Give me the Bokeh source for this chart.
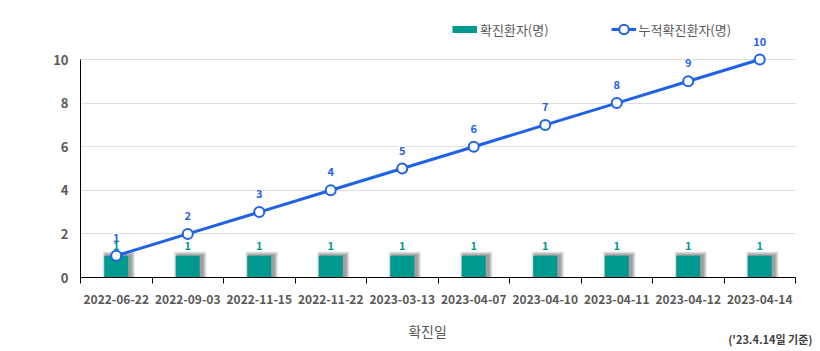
from bokeh.plotting import figure
from bokeh.models import (ColumnDataSource, FixedTicker, Range1d, Legend, LegendItem,
                          LabelSet, Label)
from bokeh.core.properties import value
from bokeh.embed import file_html
from bokeh.resources import INLINE

dates = ["2022-06-22", "2022-09-03", "2022-11-15", "2022-11-22", "2023-03-13",
         "2023-04-07", "2023-04-10", "2023-04-11", "2023-04-12", "2023-04-14"]
daily = [1, 1, 1, 1, 1, 1, 1, 1, 1, 1]
cumulative = [1, 2, 3, 4, 5, 6, 7, 8, 9, 10]
y_ticks = [0, 2, 4, 6, 8, 10]

TEAL = "#009990"
BLUE = "#1F62E8"
GRAY = "#595959"
FONT = "Noto Sans CJK KR"

W, H = 820, 351
FL, FR, FT, FB = 80, 795, 59, 277  # plot area in pixels
n = len(dates)
ymax = max(y_ticks)
sx = (FR - FL) / n
sy = (FB - FT) / ymax
BAR_PX = 24

xs = [i + 0.5 for i in range(n)]
src = ColumnDataSource(dict(x=xs, daily=daily, cum=cumulative,
                            dl=[str(v) for v in daily], cl=[str(v) for v in cumulative]))

p = figure(width=W, height=H, output_backend="svg", toolbar_location=None,
           x_range=Range1d(-FL / sx, (W - FL) / sx),
           y_range=Range1d(-(H - FB) / sy, FB / sy),
           min_border=0)
p.outline_line_color = None
p.background_fill_color = "white"

# soft drop shadow behind bars
for k in range(1, 5):
    sh = ColumnDataSource(dict(x=[x + 2.5 / sx for x in xs], top=[v + k * 1.0 / sy for v in daily]))
    p.vbar(x="x", top="top", width=(BAR_PX + 2 * k) / sx, source=sh,
           fill_color="#000000", fill_alpha=0.11, line_color=None)
bars = p.vbar(x="x", top="daily", width=BAR_PX / sx, source=src, fill_color=TEAL, line_color=None)

# bar value labels beneath the line layer
p.add_layout(LabelSet(x="x", y="daily", text="dl", source=src, y_offset=6, text_align="center",
                      text_color=TEAL, text_font=value(FONT), text_font_size="11px",
                      text_font_style="bold", level="underlay"))

line = p.line(x="x", y="cum", source=src, line_color=BLUE, line_width=3)
pts = p.scatter(x="x", y="cum", source=src, size=10, fill_color="white", line_color=BLUE, line_width=2)

p.add_layout(LabelSet(x="x", y="cum", text="cl", source=src, y_offset=14, text_align="center",
                      text_color=BLUE, text_font=value(FONT), text_font_size="11px", text_font_style="bold",
                      background_fill_color="white"))

# legend proxy for the bar series (thick teal stroke)
bar_key = p.line(x="x", y="daily", source=src, line_color=TEAL, line_width=7, visible=False)

# axes
p.xaxis.fixed_location = 0
p.xaxis.bounds = (0, n)
p.xaxis.ticker = FixedTicker(ticks=xs, minor_ticks=list(range(n + 1)))
p.xaxis.major_label_overrides = {x: d for x, d in zip(xs, dates)}
p.xaxis.major_tick_line_color = None
p.xaxis.major_tick_out = 0
p.xaxis.major_tick_in = 0
p.xaxis.minor_tick_out = 6
p.xaxis.minor_tick_in = 0
p.xaxis.minor_tick_line_color = "black"
p.xaxis.axis_line_color = "black"
p.xaxis.major_label_standoff = 11
p.xaxis.major_label_text_font = FONT
p.xaxis.major_label_text_font_size = "12px"
p.xaxis.major_label_text_font_style = "bold"
p.xaxis.major_label_text_color = GRAY

p.yaxis.fixed_location = 0
p.yaxis.ticker = FixedTicker(ticks=y_ticks)
p.yaxis.bounds = (0, ymax)
p.yaxis.major_tick_line_color = None
p.yaxis.minor_tick_line_color = None
p.yaxis.major_tick_out = 0
p.yaxis.axis_line_color = "black"
p.yaxis.major_label_standoff = 12
p.yaxis.major_label_text_font = FONT
p.yaxis.major_label_text_font_size = "13px"
p.yaxis.major_label_text_font_style = "bold"
p.yaxis.major_label_text_color = GRAY

p.xgrid.grid_line_color = None
p.ygrid.grid_line_color = "#BFBFBF"
p.ygrid.grid_line_dash = "1 1"
p.ygrid.ticker = FixedTicker(ticks=[t for t in y_ticks if t > 0])
p.ygrid.cross_bounds = (0, n)

p.add_layout(Label(x=(427 - FL) / sx, y=-(330 - FB) / sy, text="확진일", text_align="center",
                   text_baseline="middle", text_font=FONT, text_font_size="14px", text_color=GRAY))
p.add_layout(Label(x=(812 - FL) / sx, y=-(338 - FB) / sy, text="('23.4.14일 기준)", text_align="right",
                   text_baseline="middle", text_font=FONT, text_font_size="11px",
                   text_font_style="bold", text_color="#404040"))

legend = Legend(items=[LegendItem(label="확진환자(명)", renderers=[bar_key]),
                       LegendItem(label="누적확진환자(명)", renderers=[line, pts])],
                orientation="horizontal", location=(452, H - 41),
                border_line_color=None, background_fill_alpha=0,
                padding=0, margin=0, spacing=62, glyph_width=25, glyph_height=24,
                label_standoff=3, label_text_font=FONT, label_text_font_size="13px",
                label_text_color=GRAY, label_height=24)
p.add_layout(legend)

open("out.html", "w").write(file_html(p, INLINE))
